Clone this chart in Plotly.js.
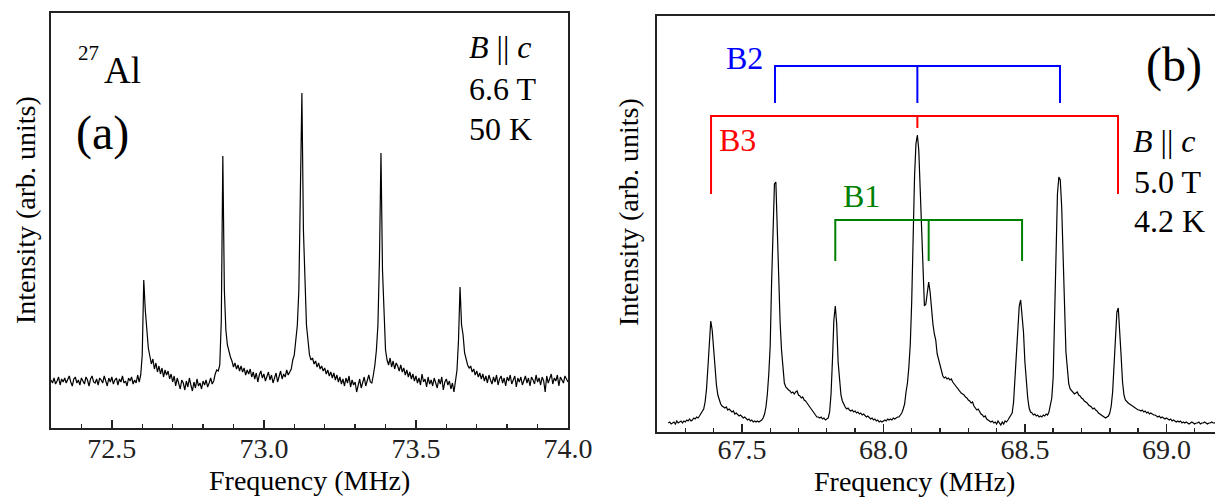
<!DOCTYPE html>
<html>
<head>
<meta charset="utf-8">
<script src="https://cdn.plot.ly/plotly-3.0.1.min.js"></script>
<style>
html, body { margin: 0; padding: 0; overflow: hidden; background: #fff; }
#chart { width: 1232px; height: 497px; }
</style>
</head>
<body>
<div id="chart"></div>
<script>
// ---------------- Panel (a): 27Al NMR, B || c, 6.6 T, 50 K ----------------
const freqStartA = 72.300;   // MHz, first sample
const freqStepA = 0.005;     // MHz, sample spacing
const intensityA = [
  // 72.30
  0, -3, 2, -4, -1, 3, -5, 1, -2, 2,
  // 72.35
  -3, 0, 4, -2, -6, 1, 3, -3, 0, -5,
  // 72.40
  2, -1, -4, 3, 0, -6, 1, 4, -2, -3,
  // 72.45
  1, -5, 2, 0, -3, 4, -1, -6, 2, -2,
  // 72.50
  3, -4, 0, 2, -5, 1, -2, 4, -3, -1,
  // 72.55
  -6, 2, -1, 3, -4, 0, -3, 5, -2, 5,
  // 72.60
  25, 100, 70, 45, 32, 24, 16, 21, 11, 17,
  // 72.65
  8, 14, 6, 12, 3, 10, 5, 9, 1, 6,
  // 72.70
  -2, 4, -6, 2, -4, -9, 0, -3, -10, -1,
  // 72.75
  -7, 2, -5, -11, -2, -8, 1, -6, -3, -9,
  // 72.80
  -1, -5, 0, -7, -3, 2, -4, -1, 6, 10,
  // 72.85
  9, 15, 60, 224, 90, 50, 35, 28, 23, 19,
  // 72.90
  13, 17, 11, 15, 9, 14, 8, 12, 5, 10,
  // 72.95
  6, 11, 3, 8, 1, 7, -2, 5, 9, 2,
  // 73.00
  6, -1, 4, 8, 0, 5, -3, 3, 7, -2,
  // 73.05
  4, 9, 1, 6, 3, 10, 5, 8, 11, 20,
  // 73.10
  25, 40, 55, 90, 170, 287, 150, 90, 55, 40,
  // 73.15
  25, 20, 22, 16, 19, 13, 17, 11, 14, 9,
  // 73.20
  12, 6, 10, 4, 8, 2, 7, 0, 5, -2,
  // 73.25
  3, -4, 1, -6, 2, -3, 4, -7, 0, -5,
  // 73.30
  -2, -12, -5, 1, -8, -3, 3, -6, 0, 5,
  // 73.35
  -2, -3, 5, 15, 30, 55, 120, 227, 110, 60,
  // 73.40
  30, 20, 15, 22, 13, 19, 11, 17, 14, 9,
  // 73.45
  15, 8, 12, 5, 10, 3, 8, 1, 6, -1,
  // 73.50
  4, -3, 2, -5, 6, -2, 1, -7, 3, -4,
  // 73.55
  0, -6, 2, -3, -8, 1, -4, 3, -10, -2,
  // 73.60
  1, -5, -1, -9, -3, -12, -2, 10, 40, 93,
  // 73.65
  55, 45, 27, 20, 15, 12, 14, 8, 11, 5,
  // 73.70
  9, 3, 7, 1, 6, -1, 4, -3, 5, 0,
  // 73.75
  -4, 3, -2, 5, -5, 1, 4, -3, 2, -6,
  // 73.80
  3, -1, 5, -4, 0, 4, -7, 2, -2, 3,
  // 73.85
  -5, 1, 4, -3, 2, -6, 3, 0, -4, 5,
  // 73.90
  -2, 2, -5, 3, -1, -12, 4, -3, 1, 6,
  // 73.95
  -4, 2, -1, 5, -6, 3, 0, -3, 4, 1,
  // 74.00
  -2
];
const tickValsA = [72.5, 73.0, 73.5, 74.0];
const tickTextA = ['72.5', '73.0', '73.5', '74.0'];

// ---------------- Panel (b): B || c, 5.0 T, 4.2 K ----------------
const freqStartB = 67.240;
const freqStepB = 0.005;
const intensityB = [
  // 67.24
  -1, 0, -2, -1, 0, -2, 1, -1, 0, 1,
  // 67.29
  -1, 1, 0, 2, 1, 3, 1, 2, 4, 3,
  // 67.34
  5, 4, 6, 8, 10, 13, 20, 33, 55, 82,
  // 67.39
  101, 92, 72, 52, 37, 27, 21, 18, 16, 15,
  // 67.44
  14, 15, 12, 13, 11, 10, 11, 8, 9, 7,
  // 67.49
  6, 7, 5, 4, 5, 3, 2, 3, 1, 2,
  // 67.54
  0, 1, 0, 1, 0, 1, 2, 4, 8, 15,
  // 67.59
  28, 48, 76, 140, 195, 238, 240, 185, 135, 100,
  // 67.64
  72, 50, 39, 35, 33, 32, 31, 29, 30, 28,
  // 67.69
  30, 31, 27, 26, 24, 25, 22, 21, 19, 17,
  // 67.74
  15, 13, 11, 9, 7, 5, 5, 4, 5, 3,
  // 67.79
  4, 2, 3, 4, 10, 28, 62, 102, 116, 98,
  // 67.84
  60, 38, 27, 21, 17, 15, 13, 14, 12, 11,
  // 67.89
  12, 10, 11, 9, 10, 8, 9, 7, 8, 6,
  // 67.94
  5, 6, 4, 3, 4, 2, 3, 1, 2, 0,
  // 67.99
  1, 0, 1, 2, 1, 3, 2, 3, 2, 4,
  // 68.04
  3, 4, 5, 5, 7, 9, 13, 18, 30, 39,
  // 68.09
  55, 78, 120, 195, 245, 278, 287, 272, 235, 200,
  // 68.14
  150, 116, 118, 132, 140, 130, 112, 98, 88, 82,
  // 68.19
  68, 63, 58, 52, 46, 44, 45, 43, 44, 42,
  // 68.24
  43, 40, 38, 36, 35, 32, 31, 29, 28, 27,
  // 68.29
  25, 24, 22, 21, 19, 20, 16, 14, 12, 13,
  // 68.34
  10, 8, 7, 5, 6, 3, 2, 1, 0, 1,
  // 68.39
  -1, 0, -2, 1, -1, -3, 0, -2, 1, 0,
  // 68.44
  2, 4, 6, 9, 20, 42, 66, 92, 116, 122,
  // 68.49
  108, 90, 60, 40, 24, 14, 10, 9, 7, 8,
  // 68.54
  6, 7, 5, 6, 5, 7, 6, 8, 7, 10,
  // 68.59
  16, 24, 45, 110, 180, 228, 245, 242, 215, 175,
  // 68.64
  118, 70, 50, 38, 33, 31, 30, 28, 29, 30,
  // 68.69
  27, 26, 24, 23, 21, 20, 19, 17, 16, 15,
  // 68.74
  13, 14, 12, 11, 9, 8, 7, 6, 5, 4,
  // 68.79
  5, 6, 9, 16, 30, 58, 88, 110, 114, 95,
  // 68.84
  66, 40, 27, 22, 20, 19, 18, 17, 16, 15,
  // 68.89
  14, 13, 12, 12, 11, 12, 10, 11, 9, 10,
  // 68.94
  8, 9, 8, 7, 7, 6, 5, 6, 4, 5,
  // 68.99
  4, 3, 4, 3, 2, 3, 1, 2, 1, 0,
  // 69.04
  1, 0, 1, -1, 0, -1, 0, -1, -2, -1,
  // 69.09
  0, -1, -2, -1, -1, 0, -2, -1, -1, 0,
  // 69.14
  -1, -2, -1, -1, 0, -1, -1, 0, -1, -2,
  // 69.19
  -1, -1, -1
];
const tickValsB = [67.5, 68.0, 68.5, 69.0];
const tickTextB = ['67.5', '68.0', '68.5', '69.0'];

// Satellite line groups (frequencies of the three lines in each group, MHz)
const linesB1 = [67.830, 68.160, 68.490];
const linesB2 = [67.617, 68.120, 68.624];
const linesB3 = [67.391, 68.120, 68.829];

// ---------------- drawing ----------------
const W = 1232, H = 497;
const px = v => v / W;
const py = v => 1 - v / H;
const serif = '"Liberation Serif", "Times New Roman", Times, "DejaVu Serif", serif';

const freqA = intensityA.map((_, i) => +(freqStartA + i * freqStepA).toFixed(3));
const freqB = intensityB.map((_, i) => +(freqStartB + i * freqStepB).toFixed(3));

function bracket(xs, yTop, yEnd, yMid, color) {
  return {
    x: [xs[0], xs[0], xs[2], xs[2], null, xs[1], xs[1]],
    y: [yEnd, yTop, yTop, yEnd, null, yTop, yMid],
    xaxis: 'x2', yaxis: 'y2', type: 'scatter', mode: 'lines',
    line: { color: color, width: 2 }, hoverinfo: 'skip'
  };
}

const traces = [
  { x: freqA, y: intensityA, xaxis: 'x', yaxis: 'y', type: 'scatter', mode: 'lines',
    line: { color: '#000', width: 1.2 } },
  { x: freqB, y: intensityB, xaxis: 'x2', yaxis: 'y2', type: 'scatter', mode: 'lines',
    line: { color: '#000', width: 1.2 } },
  bracket(linesB2, 356, 319, 319, '#0000ff'),
  bracket(linesB3, 306, 228, 294, '#ff0000'),
  bracket(linesB1, 202, 161, 161, '#008000')
];

const axisLine = { showline: true, linecolor: '#222', linewidth: 1.6, mirror: true,
  showgrid: false, zeroline: false, fixedrange: true };

function xAxis(domain, range, vals, text, anchor, standoff) {
  return Object.assign({}, axisLine, {
    domain: domain, range: range, anchor: anchor,
    tickmode: 'array', tickvals: vals, ticktext: text,
    ticks: 'inside', ticklen: 8, tickwidth: 1.6, tickcolor: '#222',
    tickfont: { family: serif, size: 28, color: '#222' },
    ticklabelstandoff: standoff,
    minor: { dtick: 0.1, tick0: 0, ticks: 'inside', ticklen: 4.5, tickwidth: 1.4, tickcolor: '#222', showgrid: false }
  });
}
function yAxis(domain, range, anchor) {
  return Object.assign({}, axisLine, {
    domain: domain, range: range, anchor: anchor,
    ticks: '', showticklabels: false
  });
}

function note(text, x, y, size, opts) {
  return Object.assign({
    text: text, xref: 'paper', yref: 'paper', x: px(x), y: py(y),
    xanchor: 'center', yanchor: 'middle', showarrow: false,
    font: { family: serif, size: size, color: '#000' }
  }, opts || {});
}

const annotations = [
  note('27', 101, 53, 21, { xanchor: 'right' }),
  note('Al', 102, 71, 37, { xanchor: 'left' }),
  note('(a)', 102, 133, 48),
  note('<i>B</i> || <i>c</i>', 467, 47, 32, { xanchor: 'left' }),
  note('6.6 T', 467, 89, 32, { xanchor: 'left' }),
  note('50 K', 467, 129, 32, { xanchor: 'left' }),
  note('(b)', 1174, 65, 48),
  note('<i>B</i> || <i>c</i>', 1131, 141, 32, { xanchor: 'left' }),
  note('5.0 T', 1132, 182, 32, { xanchor: 'left' }),
  note('4.2 K', 1132, 221, 32, { xanchor: 'left' }),
  note('B2', 744, 58, 32, { font: { family: serif, size: 32, color: '#0000ff' } }),
  note('B3', 737, 140, 32, { font: { family: serif, size: 32, color: '#ff0000' } }),
  note('B1', 861, 196, 32, { font: { family: serif, size: 32, color: '#008000' } }),
  note('Intensity (arb. units)', 25, 210, 28, { textangle: -90 }),
  note('Intensity (arb. units)', 628, 212, 28, { textangle: -90 }),
  note('Frequency (MHz)', 309, 480, 28),
  note('Frequency (MHz)', 914, 481, 28)
];

const layout = {
  width: W, height: H,
  margin: { l: 0, r: 0, t: 0, b: 0, pad: 0 },
  paper_bgcolor: '#fff', plot_bgcolor: '#fff',
  showlegend: false,
  font: { family: serif, size: 28, color: '#000' },
  xaxis: xAxis([px(51), px(568)], [72.3, 74.0], tickValsA, tickTextA, 'y', -5),
  yaxis: yAxis([py(428), py(13)], [-48, 367], 'x'),
  xaxis2: xAxis([px(657), px(1223)], [67.2, 69.2], tickValsB, tickTextB, 'y2', -8),
  yaxis2: yAxis([py(432), py(16)], [-10, 406], 'x2'),
  annotations: annotations
};

Plotly.newPlot('chart', traces, layout, { staticPlot: true, displayModeBar: false });
</script>
</body>
</html>
